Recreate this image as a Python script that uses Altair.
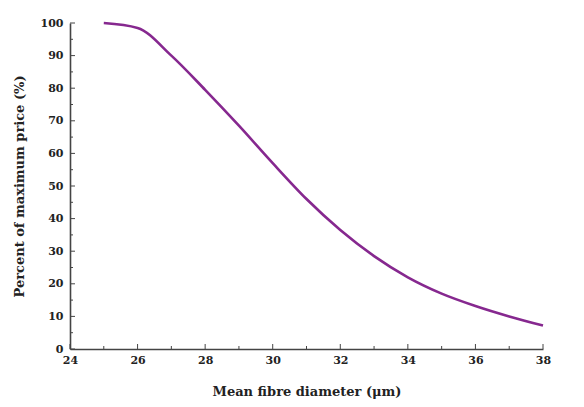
import altair as alt
import pandas as pd

diameter = [25, 26, 27, 28, 29, 30, 31, 32, 33, 34, 35, 36, 37, 38]
percent = [100, 98.5, 90, 79.5, 68.5, 57, 46, 36.5, 28.5, 22, 17, 13.2, 10, 7.2]

x_major = [24, 26, 28, 30, 32, 34, 36, 38]
x_minor = [25, 27, 29, 31, 33, 35, 37]
y_major = [0, 10, 20, 30, 40, 50, 60, 70, 80, 90, 100]
y_minor = [5, 15, 25, 35, 45, 55, 65, 75, 85, 95]

W, H = 473, 326
AXC = "#444444"
FONT = "DejaVu Serif"

xs = alt.Scale(domain=[24, 38], nice=False, zero=False)
ys = alt.Scale(domain=[0, 100], nice=False)

df = pd.DataFrame({"d": diameter, "p": percent})

xaxis = alt.Axis(
    values=x_major, title="Mean fibre diameter (\u03bcm)", tickSize=0,
    labelPadding=5, titlePadding=20, grid=False, labelFlush=False,
    domainColor=AXC, domainWidth=1.6)
yaxis = alt.Axis(
    values=y_major, title="Percent of maximum price (%)", tickSize=0,
    labelPadding=7, titlePadding=14, grid=False, labelFlush=False,
    domainColor=AXC, domainWidth=1.6)

line = alt.Chart(df).mark_line(
    color="#86288f", strokeWidth=2.6, interpolate="monotone"
).encode(
    x=alt.X("d:Q", scale=xs, axis=xaxis),
    y=alt.Y("p:Q", scale=ys, axis=yaxis),
)

ymaj = alt.Chart(pd.DataFrame({"p": y_major})).mark_rule(color=AXC, strokeWidth=1).encode(
    y=alt.Y("p:Q", scale=ys, axis=yaxis), x=alt.value(0), x2=alt.value(5))
ymin = alt.Chart(pd.DataFrame({"p": y_minor})).mark_rule(color=AXC, strokeWidth=1).encode(
    y=alt.Y("p:Q", scale=ys, axis=yaxis), x=alt.value(0), x2=alt.value(3))
xmaj = alt.Chart(pd.DataFrame({"d": x_major})).mark_rule(color=AXC, strokeWidth=1).encode(
    x=alt.X("d:Q", scale=xs, axis=xaxis), y=alt.value(H), y2=alt.value(H - 5))
xmin = alt.Chart(pd.DataFrame({"d": x_minor})).mark_rule(color=AXC, strokeWidth=1).encode(
    x=alt.X("d:Q", scale=xs, axis=xaxis), y=alt.value(H), y2=alt.value(H - 3))

chart = alt.layer(line, ymaj, ymin, xmaj, xmin).properties(
    width=W, height=H,
    autosize=alt.AutoSizeParams(type="none"),
    padding={"left": 62, "top": 15, "right": 33, "bottom": 50},
).configure_view(stroke=None).configure_axis(
    labelFont=FONT, labelFontWeight="bold", labelFontSize=11, labelColor="#222222",
    titleFont=FONT, titleFontWeight="bold", titleFontSize=13, titleColor="#222222",
)

chart.save("out.html", embed_options={"renderer": "svg", "actions": False})
